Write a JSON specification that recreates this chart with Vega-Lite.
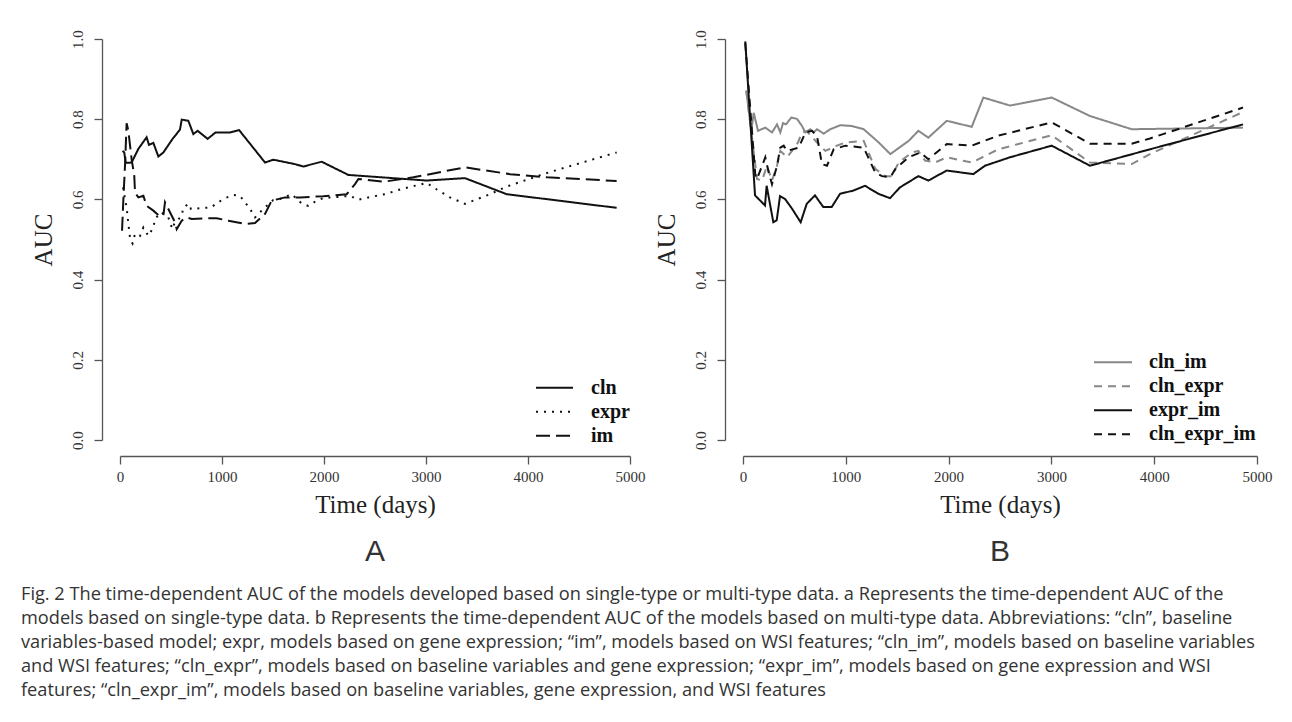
{
  "$schema": "https://vega.github.io/schema/vega-lite/v6.json",
  "background": "white",
  "padding": {"left": 20, "top": 29, "right": 5, "bottom": 5},
  "datasets": {
    "a": [
      {"model": "cln", "t": 25, "auc": 0.721}, {"model": "cln", "t": 42, "auc": 0.717}, {"model": "cln", "t": 56, "auc": 0.691}, {"model": "cln", "t": 114, "auc": 0.692}, {"model": "cln", "t": 180, "auc": 0.726}, {"model": "cln", "t": 261, "auc": 0.755}, {"model": "cln", "t": 284, "auc": 0.736}, {"model": "cln", "t": 327, "auc": 0.741}, {"model": "cln", "t": 376, "auc": 0.707}, {"model": "cln", "t": 425, "auc": 0.717}, {"model": "cln", "t": 513, "auc": 0.75}, {"model": "cln", "t": 588, "auc": 0.774}, {"model": "cln", "t": 605, "auc": 0.799}, {"model": "cln", "t": 670, "auc": 0.796}, {"model": "cln", "t": 719, "auc": 0.763}, {"model": "cln", "t": 761, "auc": 0.771}, {"model": "cln", "t": 859, "auc": 0.751}, {"model": "cln", "t": 937, "auc": 0.767}, {"model": "cln", "t": 1078, "auc": 0.767}, {"model": "cln", "t": 1167, "auc": 0.773}, {"model": "cln", "t": 1422, "auc": 0.692}, {"model": "cln", "t": 1503, "auc": 0.699}, {"model": "cln", "t": 1716, "auc": 0.688}, {"model": "cln", "t": 1797, "auc": 0.682}, {"model": "cln", "t": 1977, "auc": 0.694}, {"model": "cln", "t": 2239, "auc": 0.661}, {"model": "cln", "t": 3007, "auc": 0.647}, {"model": "cln", "t": 3382, "auc": 0.653}, {"model": "cln", "t": 3791, "auc": 0.613}, {"model": "cln", "t": 4869, "auc": 0.579},
      {"model": "expr", "t": 30, "auc": 0.63}, {"model": "expr", "t": 50, "auc": 0.6}, {"model": "expr", "t": 65, "auc": 0.58}, {"model": "expr", "t": 82, "auc": 0.54}, {"model": "expr", "t": 100, "auc": 0.5}, {"model": "expr", "t": 123, "auc": 0.49}, {"model": "expr", "t": 147, "auc": 0.514}, {"model": "expr", "t": 196, "auc": 0.509}, {"model": "expr", "t": 229, "auc": 0.53}, {"model": "expr", "t": 278, "auc": 0.509}, {"model": "expr", "t": 327, "auc": 0.53}, {"model": "expr", "t": 343, "auc": 0.551}, {"model": "expr", "t": 402, "auc": 0.568}, {"model": "expr", "t": 474, "auc": 0.555}, {"model": "expr", "t": 513, "auc": 0.526}, {"model": "expr", "t": 533, "auc": 0.54}, {"model": "expr", "t": 605, "auc": 0.559}, {"model": "expr", "t": 621, "auc": 0.58}, {"model": "expr", "t": 676, "auc": 0.589}, {"model": "expr", "t": 696, "auc": 0.576}, {"model": "expr", "t": 784, "auc": 0.578}, {"model": "expr", "t": 892, "auc": 0.58}, {"model": "expr", "t": 964, "auc": 0.593}, {"model": "expr", "t": 1029, "auc": 0.603}, {"model": "expr", "t": 1111, "auc": 0.611}, {"model": "expr", "t": 1176, "auc": 0.609}, {"model": "expr", "t": 1225, "auc": 0.593}, {"model": "expr", "t": 1275, "auc": 0.576}, {"model": "expr", "t": 1324, "auc": 0.555}, {"model": "expr", "t": 1400, "auc": 0.575}, {"model": "expr", "t": 1500, "auc": 0.598}, {"model": "expr", "t": 1569, "auc": 0.601}, {"model": "expr", "t": 1683, "auc": 0.613}, {"model": "expr", "t": 1781, "auc": 0.59}, {"model": "expr", "t": 1846, "auc": 0.584}, {"model": "expr", "t": 1928, "auc": 0.597}, {"model": "expr", "t": 2010, "auc": 0.605}, {"model": "expr", "t": 2092, "auc": 0.605}, {"model": "expr", "t": 2255, "auc": 0.609}, {"model": "expr", "t": 2337, "auc": 0.599}, {"model": "expr", "t": 2435, "auc": 0.605}, {"model": "expr", "t": 2598, "auc": 0.613}, {"model": "expr", "t": 2761, "auc": 0.626}, {"model": "expr", "t": 2925, "auc": 0.636}, {"model": "expr", "t": 3007, "auc": 0.641}, {"model": "expr", "t": 3072, "auc": 0.63}, {"model": "expr", "t": 3235, "auc": 0.605}, {"model": "expr", "t": 3382, "auc": 0.589}, {"model": "expr", "t": 3464, "auc": 0.597}, {"model": "expr", "t": 3627, "auc": 0.613}, {"model": "expr", "t": 3791, "auc": 0.632}, {"model": "expr", "t": 4200, "auc": 0.667}, {"model": "expr", "t": 4600, "auc": 0.697}, {"model": "expr", "t": 4869, "auc": 0.717},
      {"model": "im", "t": 20, "auc": 0.522}, {"model": "im", "t": 33, "auc": 0.6}, {"model": "im", "t": 49, "auc": 0.684}, {"model": "im", "t": 65, "auc": 0.79}, {"model": "im", "t": 82, "auc": 0.771}, {"model": "im", "t": 114, "auc": 0.7}, {"model": "im", "t": 140, "auc": 0.659}, {"model": "im", "t": 147, "auc": 0.617}, {"model": "im", "t": 180, "auc": 0.605}, {"model": "im", "t": 229, "auc": 0.609}, {"model": "im", "t": 261, "auc": 0.584}, {"model": "im", "t": 327, "auc": 0.572}, {"model": "im", "t": 376, "auc": 0.561}, {"model": "im", "t": 425, "auc": 0.559}, {"model": "im", "t": 441, "auc": 0.593}, {"model": "im", "t": 474, "auc": 0.576}, {"model": "im", "t": 539, "auc": 0.543}, {"model": "im", "t": 556, "auc": 0.526}, {"model": "im", "t": 605, "auc": 0.547}, {"model": "im", "t": 654, "auc": 0.555}, {"model": "im", "t": 703, "auc": 0.551}, {"model": "im", "t": 833, "auc": 0.553}, {"model": "im", "t": 948, "auc": 0.553}, {"model": "im", "t": 1062, "auc": 0.547}, {"model": "im", "t": 1225, "auc": 0.539}, {"model": "im", "t": 1324, "auc": 0.541}, {"model": "im", "t": 1422, "auc": 0.564}, {"model": "im", "t": 1487, "auc": 0.597}, {"model": "im", "t": 1618, "auc": 0.605}, {"model": "im", "t": 1765, "auc": 0.605}, {"model": "im", "t": 1993, "auc": 0.608}, {"model": "im", "t": 2222, "auc": 0.613}, {"model": "im", "t": 2304, "auc": 0.638}, {"model": "im", "t": 2337, "auc": 0.651}, {"model": "im", "t": 2582, "auc": 0.644}, {"model": "im", "t": 2876, "auc": 0.655}, {"model": "im", "t": 3382, "auc": 0.68}, {"model": "im", "t": 3824, "auc": 0.663}, {"model": "im", "t": 4188, "auc": 0.655}, {"model": "im", "t": 4869, "auc": 0.646}
    ],
    "b": [
      {"model": "cln_im", "t": 32, "auc": 0.871}, {"model": "cln_im", "t": 81, "auc": 0.771}, {"model": "cln_im", "t": 104, "auc": 0.816}, {"model": "cln_im", "t": 146, "auc": 0.771}, {"model": "cln_im", "t": 217, "auc": 0.779}, {"model": "cln_im", "t": 282, "auc": 0.767}, {"model": "cln_im", "t": 331, "auc": 0.787}, {"model": "cln_im", "t": 363, "auc": 0.767}, {"model": "cln_im", "t": 389, "auc": 0.79}, {"model": "cln_im", "t": 418, "auc": 0.787}, {"model": "cln_im", "t": 470, "auc": 0.804}, {"model": "cln_im", "t": 525, "auc": 0.801}, {"model": "cln_im", "t": 574, "auc": 0.783}, {"model": "cln_im", "t": 606, "auc": 0.767}, {"model": "cln_im", "t": 655, "auc": 0.775}, {"model": "cln_im", "t": 688, "auc": 0.767}, {"model": "cln_im", "t": 720, "auc": 0.775}, {"model": "cln_im", "t": 785, "auc": 0.764}, {"model": "cln_im", "t": 849, "auc": 0.775}, {"model": "cln_im", "t": 947, "auc": 0.785}, {"model": "cln_im", "t": 1060, "auc": 0.783}, {"model": "cln_im", "t": 1174, "auc": 0.775}, {"model": "cln_im", "t": 1320, "auc": 0.742}, {"model": "cln_im", "t": 1433, "auc": 0.713}, {"model": "cln_im", "t": 1612, "auc": 0.746}, {"model": "cln_im", "t": 1706, "auc": 0.771}, {"model": "cln_im", "t": 1803, "auc": 0.754}, {"model": "cln_im", "t": 1982, "auc": 0.796}, {"model": "cln_im", "t": 2225, "auc": 0.781}, {"model": "cln_im", "t": 2338, "auc": 0.854}, {"model": "cln_im", "t": 2597, "auc": 0.834}, {"model": "cln_im", "t": 3003, "auc": 0.854}, {"model": "cln_im", "t": 3375, "auc": 0.808}, {"model": "cln_im", "t": 3781, "auc": 0.775}, {"model": "cln_im", "t": 4864, "auc": 0.779},
      {"model": "cln_expr", "t": 32, "auc": 0.871}, {"model": "cln_expr", "t": 136, "auc": 0.651}, {"model": "cln_expr", "t": 185, "auc": 0.647}, {"model": "cln_expr", "t": 233, "auc": 0.684}, {"model": "cln_expr", "t": 282, "auc": 0.647}, {"model": "cln_expr", "t": 331, "auc": 0.684}, {"model": "cln_expr", "t": 363, "auc": 0.721}, {"model": "cln_expr", "t": 428, "auc": 0.705}, {"model": "cln_expr", "t": 477, "auc": 0.721}, {"model": "cln_expr", "t": 535, "auc": 0.742}, {"model": "cln_expr", "t": 574, "auc": 0.767}, {"model": "cln_expr", "t": 620, "auc": 0.77}, {"model": "cln_expr", "t": 720, "auc": 0.742}, {"model": "cln_expr", "t": 801, "auc": 0.721}, {"model": "cln_expr", "t": 914, "auc": 0.734}, {"model": "cln_expr", "t": 995, "auc": 0.742}, {"model": "cln_expr", "t": 1174, "auc": 0.746}, {"model": "cln_expr", "t": 1287, "auc": 0.676}, {"model": "cln_expr", "t": 1384, "auc": 0.658}, {"model": "cln_expr", "t": 1449, "auc": 0.658}, {"model": "cln_expr", "t": 1514, "auc": 0.692}, {"model": "cln_expr", "t": 1644, "auc": 0.717}, {"model": "cln_expr", "t": 1706, "auc": 0.721}, {"model": "cln_expr", "t": 1770, "auc": 0.697}, {"model": "cln_expr", "t": 1868, "auc": 0.692}, {"model": "cln_expr", "t": 1982, "auc": 0.705}, {"model": "cln_expr", "t": 2225, "auc": 0.692}, {"model": "cln_expr", "t": 2484, "auc": 0.725}, {"model": "cln_expr", "t": 3003, "auc": 0.76}, {"model": "cln_expr", "t": 3375, "auc": 0.692}, {"model": "cln_expr", "t": 3781, "auc": 0.688}, {"model": "cln_expr", "t": 3959, "auc": 0.713}, {"model": "cln_expr", "t": 4864, "auc": 0.818},
      {"model": "expr_im", "t": 22, "auc": 0.994}, {"model": "expr_im", "t": 117, "auc": 0.61}, {"model": "expr_im", "t": 214, "auc": 0.585}, {"model": "expr_im", "t": 230, "auc": 0.634}, {"model": "expr_im", "t": 295, "auc": 0.543}, {"model": "expr_im", "t": 328, "auc": 0.548}, {"model": "expr_im", "t": 360, "auc": 0.608}, {"model": "expr_im", "t": 409, "auc": 0.601}, {"model": "expr_im", "t": 474, "auc": 0.578}, {"model": "expr_im", "t": 561, "auc": 0.543}, {"model": "expr_im", "t": 620, "auc": 0.589}, {"model": "expr_im", "t": 700, "auc": 0.61}, {"model": "expr_im", "t": 781, "auc": 0.581}, {"model": "expr_im", "t": 863, "auc": 0.581}, {"model": "expr_im", "t": 944, "auc": 0.614}, {"model": "expr_im", "t": 1073, "auc": 0.622}, {"model": "expr_im", "t": 1187, "auc": 0.634}, {"model": "expr_im", "t": 1317, "auc": 0.614}, {"model": "expr_im", "t": 1430, "auc": 0.603}, {"model": "expr_im", "t": 1527, "auc": 0.63}, {"model": "expr_im", "t": 1706, "auc": 0.658}, {"model": "expr_im", "t": 1803, "auc": 0.647}, {"model": "expr_im", "t": 1982, "auc": 0.672}, {"model": "expr_im", "t": 2240, "auc": 0.663}, {"model": "expr_im", "t": 2354, "auc": 0.684}, {"model": "expr_im", "t": 2597, "auc": 0.705}, {"model": "expr_im", "t": 3003, "auc": 0.734}, {"model": "expr_im", "t": 3375, "auc": 0.684}, {"model": "expr_im", "t": 3959, "auc": 0.725}, {"model": "expr_im", "t": 4864, "auc": 0.787},
      {"model": "cln_expr_im", "t": 22, "auc": 0.99}, {"model": "cln_expr_im", "t": 120, "auc": 0.66}, {"model": "cln_expr_im", "t": 136, "auc": 0.651}, {"model": "cln_expr_im", "t": 217, "auc": 0.705}, {"model": "cln_expr_im", "t": 250, "auc": 0.667}, {"model": "cln_expr_im", "t": 282, "auc": 0.638}, {"model": "cln_expr_im", "t": 331, "auc": 0.684}, {"model": "cln_expr_im", "t": 363, "auc": 0.729}, {"model": "cln_expr_im", "t": 396, "auc": 0.734}, {"model": "cln_expr_im", "t": 428, "auc": 0.721}, {"model": "cln_expr_im", "t": 542, "auc": 0.729}, {"model": "cln_expr_im", "t": 607, "auc": 0.767}, {"model": "cln_expr_im", "t": 671, "auc": 0.771}, {"model": "cln_expr_im", "t": 720, "auc": 0.758}, {"model": "cln_expr_im", "t": 768, "auc": 0.688}, {"model": "cln_expr_im", "t": 817, "auc": 0.684}, {"model": "cln_expr_im", "t": 882, "auc": 0.725}, {"model": "cln_expr_im", "t": 995, "auc": 0.734}, {"model": "cln_expr_im", "t": 1174, "auc": 0.729}, {"model": "cln_expr_im", "t": 1287, "auc": 0.667}, {"model": "cln_expr_im", "t": 1352, "auc": 0.658}, {"model": "cln_expr_im", "t": 1433, "auc": 0.655}, {"model": "cln_expr_im", "t": 1482, "auc": 0.676}, {"model": "cln_expr_im", "t": 1612, "auc": 0.705}, {"model": "cln_expr_im", "t": 1725, "auc": 0.717}, {"model": "cln_expr_im", "t": 1803, "auc": 0.7}, {"model": "cln_expr_im", "t": 1982, "auc": 0.738}, {"model": "cln_expr_im", "t": 2225, "auc": 0.734}, {"model": "cln_expr_im", "t": 2484, "auc": 0.759}, {"model": "cln_expr_im", "t": 3003, "auc": 0.792}, {"model": "cln_expr_im", "t": 3375, "auc": 0.739}, {"model": "cln_expr_im", "t": 3781, "auc": 0.739}, {"model": "cln_expr_im", "t": 3959, "auc": 0.752}, {"model": "cln_expr_im", "t": 4864, "auc": 0.829}
    ]
  },
  "title": {
    "text": [
      "Fig. 2 The time-dependent AUC of the models developed based on single-type or multi-type data. a Represents the time-dependent AUC of the",
      "models based on single-type data. b Represents the time-dependent AUC of the models based on multi-type data. Abbreviations: “cln”, baseline",
      "variables-based model; expr, models based on gene expression; “im”, models based on WSI features; “cln_im”, models based on baseline variables",
      "and WSI features; “cln_expr”, models based on baseline variables and gene expression; “expr_im”, models based on gene expression and WSI",
      "features; “cln_expr_im”, models based on baseline variables, gene expression, and WSI features"
    ],
    "orient": "bottom",
    "anchor": "start",
    "frame": "bounds",
    "dx": -10,
    "font": "Open Sans",
    "fontSize": 18.2,
    "fontWeight": "normal",
    "lineHeight": 24,
    "color": "#333333",
    "offset": 19
  },
  "spacing": 8,
  "resolve": {
    "scale": {"color": "independent", "strokeDash": "independent"},
    "legend": {"color": "independent", "strokeDash": "independent"}
  },
  "hconcat": [
    {
      "width": 510,
      "height": 401,
      "data": {"name": "a"},
      "title": {"text": "A", "orient": "bottom", "font": "Liberation Sans", "fontSize": 30, "fontWeight": "normal", "color": "#333333", "offset": 20},
      "mark": {"type": "line", "strokeWidth": 2, "color": "#111111"},
      "encoding": {
        "x": {"field": "t", "type": "quantitative", "scale": {"domain": [0, 5000], "nice": false}, "axis": {"title": "Time (days)", "values": [0, 1000, 2000, 3000, 4000, 5000], "format": "d", "offset": 16}},
        "y": {"field": "auc", "type": "quantitative", "scale": {"domain": [0, 1], "nice": false}, "axis": {"title": "AUC", "values": [0, 0.2, 0.4, 0.6, 0.8, 1.0], "format": ".1f", "offset": 18}},
        "strokeDash": {
          "field": "model", "type": "nominal",
          "scale": {"domain": ["cln", "expr", "im"], "range": [[1, 0], [2, 6], [14, 6]]},
          "legend": {"orient": "none", "legendX": 415, "legendY": 337, "title": null, "symbolType": "stroke", "symbolSize": 1369, "symbolStrokeWidth": 2, "symbolStrokeColor": "#111111", "labelFont": "Liberation Serif", "labelFontSize": 20, "labelFontWeight": "bold", "labelColor": "#111111", "clipHeight": 23.5, "rowPadding": 0, "labelOffset": 17}
        }
      }
    },
    {
      "width": 514,
      "height": 401,
      "data": {"name": "b"},
      "title": {"text": "B", "orient": "bottom", "font": "Liberation Sans", "fontSize": 30, "fontWeight": "normal", "color": "#333333", "offset": 20},
      "mark": {"type": "line", "strokeWidth": 2},
      "encoding": {
        "x": {"field": "t", "type": "quantitative", "scale": {"domain": [0, 5000], "nice": false}, "axis": {"title": "Time (days)", "values": [0, 1000, 2000, 3000, 4000, 5000], "format": "d", "offset": 16}},
        "y": {"field": "auc", "type": "quantitative", "scale": {"domain": [0, 1], "nice": false}, "axis": {"title": "AUC", "values": [0, 0.2, 0.4, 0.6, 0.8, 1.0], "format": ".1f", "offset": 18}},
        "color": {
          "field": "model", "type": "nominal",
          "scale": {"domain": ["cln_im", "cln_expr", "expr_im", "cln_expr_im"], "range": ["#888888", "#888888", "#111111", "#111111"]},
          "legend": {"orient": "none", "legendX": 350, "legendY": 311.5, "title": null, "symbolType": "stroke", "symbolSize": 1444, "symbolStrokeWidth": 2, "labelFont": "Liberation Serif", "labelFontSize": 20, "labelFontWeight": "bold", "labelColor": "#111111", "clipHeight": 23.5, "rowPadding": 0, "labelOffset": 16}
        },
        "strokeDash": {
          "field": "model", "type": "nominal",
          "scale": {"domain": ["cln_im", "cln_expr", "expr_im", "cln_expr_im"], "range": [[1, 0], [8, 6], [1, 0], [8, 6]]},
          "legend": {"orient": "none", "legendX": 350, "legendY": 311.5, "title": null, "symbolType": "stroke", "symbolSize": 1444, "symbolStrokeWidth": 2, "labelFont": "Liberation Serif", "labelFontSize": 20, "labelFontWeight": "bold", "labelColor": "#111111", "clipHeight": 23.5, "rowPadding": 0, "labelOffset": 16}
        }
      }
    }
  ],
  "config": {
    "view": {"stroke": null},
    "axis": {
      "grid": false,
      "domainColor": "#555555", "tickColor": "#555555", "domainWidth": 1.3, "tickWidth": 1.3, "tickSize": 8,
      "labelFont": "Liberation Serif", "labelFontSize": 15, "labelColor": "#333333",
      "titleFont": "Liberation Serif", "titleFontSize": 25, "titleFontWeight": "normal", "titleColor": "#222222"
    },
    "axisX": {"labelPadding": 5, "titlePadding": 8, "labelFlush": false},
    "axisY": {"labelAngle": -90, "labelAlign": "center", "labelBaseline": "bottom", "labelPadding": 9, "titlePadding": 14}
  }
}
